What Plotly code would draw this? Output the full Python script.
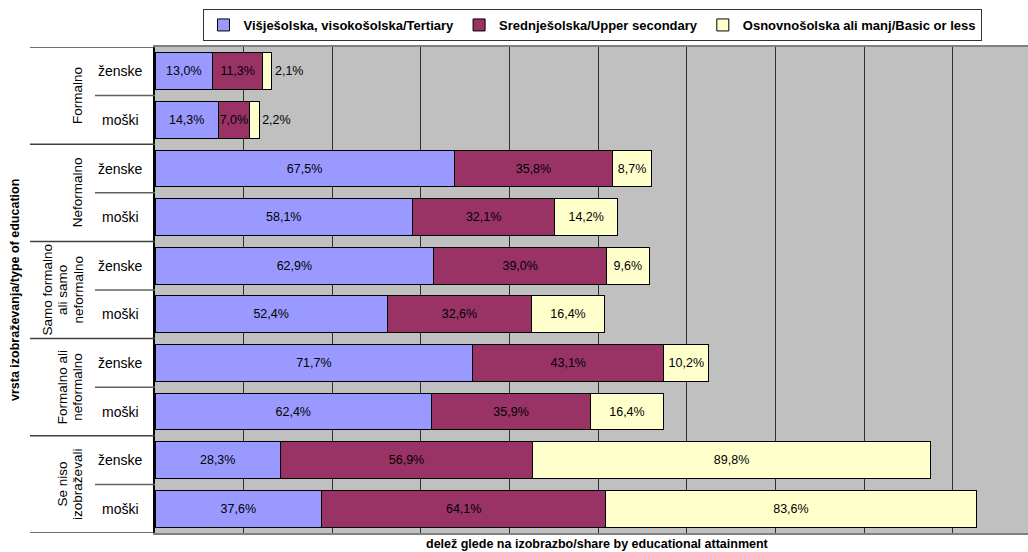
import plotly.graph_objects as go

# ---- data ----
groups = [["Formalno"], ["Neformalno"], ["Samo formalno", "ali samo", "neformalno"],
          ["Formalno ali", "neformalno"], ["Se niso", "izobraževali"]]
sexes = ["ženske", "moški"]
series_names = ["Višješolska, visokošolska/Tertiary",
                "Srednješolska/Upper secondary",
                "Osnovnošolska ali manj/Basic or less"]
tertiary = [13.0, 14.3, 67.5, 58.1, 62.9, 52.4, 71.7, 62.4, 28.3, 37.6]
upper_secondary = [11.3, 7.0, 35.8, 32.1, 39.0, 32.6, 43.1, 35.9, 56.9, 64.1]
basic = [2.1, 2.2, 8.7, 14.2, 9.6, 16.4, 10.2, 16.4, 89.8, 83.6]
colors = ["#9999FF", "#993366", "#FFFFCC"]
y_title = "vrsta izobraževanja/type of education"
x_title = "delež glede na izobrazbo/share by educational attainment"

FONT = "Arial, Liberation Sans, sans-serif"
W, H = 1028, 552
L, R, T, B = 155, 0, 47, 19
PW = W - L - R
PH = H - T - B

ypos = list(range(len(tertiary)))
row_sex = [sexes[i % 2] for i in ypos]


def fmt(v):
    return f"{v:.1f}".replace(".", ",") + "%"


fig = go.Figure()
for name, vals, col in zip(series_names, [tertiary, upper_secondary, basic], colors):
    if col == "#FFFFCC":
        tpos = ["outside" if v < 5 else "inside" for v in vals]
    else:
        tpos = "inside"
    fig.add_trace(go.Bar(
        x=vals, y=ypos, orientation="h", name=name,
        marker=dict(color=col, line=dict(color="#000000", width=1)),
        text=[fmt(v) for v in vals], textposition=tpos, textangle=0,
        insidetextanchor="middle", cliponaxis=False, constraintext="none",
        textfont=dict(family=FONT, size=12.5, color="#000000"),
        insidetextfont=dict(family=FONT, size=12.5, color="#000000"),
        outsidetextfont=dict(family=FONT, size=12.5, color="#000000"),
        hoverinfo="skip",
    ))

shapes = []
# group separators (left of plot)
for b in [-0.5, 1.5, 3.5, 5.5, 7.5, 9.5]:
    shapes.append(dict(type="line", xref="paper", yref="y",
                       x0=(30 - L) / PW, x1=0, y0=b, y1=b,
                       line=dict(color="#404040", width=1.5)))
# inner separators between ženske/moški
for b in [0.5, 2.5, 4.5, 6.5, 8.5]:
    shapes.append(dict(type="line", xref="paper", yref="y",
                       x0=(95 - L) / PW, x1=0, y0=b, y1=b,
                       line=dict(color="#606060", width=1.5)))

annotations = []
for i, s in zip(ypos, row_sex):
    annotations.append(dict(x=(120 - L) / PW, xref="paper", y=i, yref="y",
                            text=s, showarrow=False, xanchor="center",
                            font=dict(family=FONT, size=14, color="#000000")))
for g, lines in enumerate(groups):
    n = len(lines)
    for k, line in enumerate(lines):
        cx = 77.5 - (n - 1 - k) * 15.5
        annotations.append(dict(x=(cx - L) / PW, xref="paper", y=2 * g + 0.5, yref="y",
                                text=line, showarrow=False, textangle=-90,
                                xanchor="center", yanchor="middle",
                                font=dict(family=FONT, size=13.5, color="#000000")))
annotations.append(dict(x=(15 - L) / PW, xref="paper", y=0.5, yref="paper",
                        text="<b>" + y_title + "</b>", showarrow=False, textangle=-90,
                        xanchor="center", yanchor="middle",
                        font=dict(family=FONT, size=12.5, color="#000000")))
annotations.append(dict(x=(597 - L) / PW, xref="paper", y=-(544 - (H - B)) / PH,
                        yref="paper", text="<b>" + x_title + "</b>", showarrow=False,
                        xanchor="center", yanchor="middle",
                        font=dict(family=FONT, size=12.5, color="#000000")))

fig.update_layout(
    width=W, height=H,
    margin=dict(l=L, r=R, t=T, b=B, pad=0, autoexpand=False),
    barmode="stack", bargap=0.24,
    plot_bgcolor="#C0C0C0", paper_bgcolor="#FFFFFF",
    font=dict(family=FONT, size=12, color="#000000"),
    uniformtext=dict(minsize=12.5, mode="show"),
    showlegend=True,
    legend=dict(orientation="h", x=(592 - L) / PW, xanchor="center",
                y=1 + (T - 9) / PH, yanchor="top",
                bgcolor="#FFFFFF", bordercolor="#333333", borderwidth=1,
                font=dict(family=FONT, size=13, color="#000000", weight="bold"),
                traceorder="normal", itemclick=False, itemdoubleclick=False,
                tracegroupgap=0),
    xaxis=dict(range=[0, 197], dtick=20, tick0=0, showgrid=True,
               gridcolor="#303030", gridwidth=1, showticklabels=False,
               zeroline=False, showline=True, linecolor="#808080", linewidth=1.5,
               mirror=True, ticks=""),
    yaxis=dict(range=[9.5, -0.5], showticklabels=False, showgrid=False,
               zeroline=False, showline=True, linecolor="#000000", linewidth=1.5,
               ticks=""),
    shapes=shapes, annotations=annotations,
)

fig.write_html("out.html", config={"displayModeBar": False},
               post_script="document.body.style.margin='0';document.body.style.padding='0';")
